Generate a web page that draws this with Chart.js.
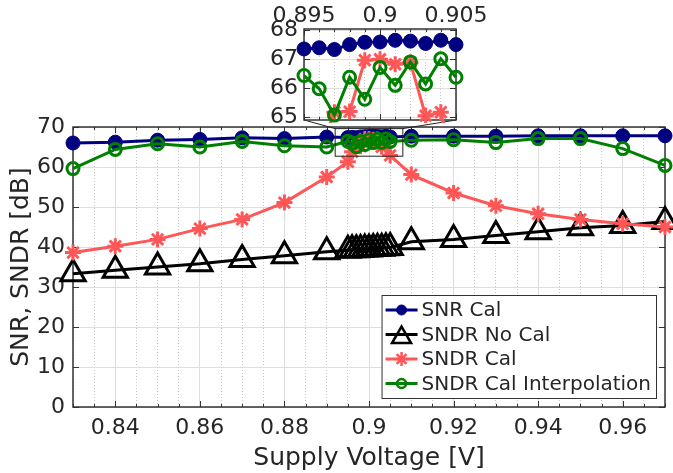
<!DOCTYPE html>
<html>
<head>
<meta charset="utf-8">
<title>SNR / SNDR vs supply voltage</title>
<script src="https://cdn.jsdelivr.net/npm/chart.js@4.4.1/dist/chart.umd.min.js"></script>
<style>
  html, body { margin: 0; padding: 0; background: #fff; }
  #wrap { position: relative; width: 673px; height: 473px; overflow: hidden; }
  #main { position: absolute; left: 0; top: 0; }
  #zoom { position: absolute; left: 250px; top: 0; }
</style>
</head>
<body>
<div id="wrap">
  <canvas id="main" width="673" height="473"></canvas>
  <canvas id="zoom" width="250" height="140"></canvas>
</div>
<script>
const $ = document.querySelector.bind(document)

// supply sweep, with a 1 mV step around the nominal 0.9 V
const voltage = [0.83, 0.84, 0.85, 0.86, 0.87, 0.88, 0.89,
    0.895, 0.896, 0.897, 0.898, 0.899, 0.9, 0.901, 0.902, 0.903, 0.904, 0.905,
    0.91, 0.92, 0.93, 0.94, 0.95, 0.96, 0.97]

const snrCal = [66.0, 66.2, 66.7, 66.9, 67.3, 67.1, 67.5,
    67.36, 67.40, 67.34, 67.51, 67.59, 67.60, 67.66, 67.63, 67.55, 67.66, 67.51,
    67.7, 67.7, 67.7, 67.8, 67.8, 67.8, 67.8]
const sndrNoCal = [33.3, 34.2, 35.0, 35.8, 36.9, 37.8, 38.8,
    39.2, 39.3, 39.3, 39.4, 39.5, 39.5, 39.6, 39.7, 39.7, 39.8, 39.9,
    41.3, 41.9, 42.9, 43.8, 44.8, 45.4, 46.4]
const sndrCal = [38.6, 40.2, 41.9, 44.6, 46.9, 51.1, 57.5,
    61.3, 63.8, 65.17, 65.19, 66.97, 67.0, 66.83, 66.89, 65.05, 65.17, 62.9,
    58.1, 53.5, 50.3, 48.3, 46.9, 45.8, 45.0]
const sndrCalInterp = [59.6, 64.4, 65.8, 65.0, 66.4, 65.3, 65.0,
    66.44, 65.98, 65.07, 66.38, 65.62, 66.72, 66.10, 66.91, 66.15, 67.02, 66.38,
    66.7, 66.8, 66.1, 67.1, 67.1, 64.6, 60.4]

const xMajorTicks = [0.84, 0.86, 0.88, 0.9, 0.92, 0.94, 0.96]
const yTicks = [0, 10, 20, 30, 40, 50, 60, 70]
const zoomXTicks = [0.895, 0.9, 0.905]
const zoomYTicks = [65, 66, 67, 68]

const mainRange = { xMin: 0.83, xMax: 0.97, yMin: 0, yMax: 70, minorStep: 0.005 }
const zoomRange = { xMin: 0.895, xMax: 0.905, yMin: 64.9, yMax: 68.05, minorStep: 0.001 }
// rectangle marking the zoomed region on the main axes
const zoomBox = { xMin: 0.892, xMax: 0.908, yMin: 62.7, yMax: 69.6 }

const series = [
    { label: "SNR Cal", values: snrCal, color: "#000080", style: "circle", radius: 7, filled: true },
    { label: "SNDR No Cal", values: sndrNoCal, color: "#000000", style: "triangle", radius: 14 },
    { label: "SNDR Cal", values: sndrCal, color: "#ff5757", style: "star", radius: 8 },
    { label: "SNDR Cal Interpolation", values: sndrCalInterp, color: "#008000", style: "circle", radius: 6 },
]

const FONT = "'DejaVu Sans', sans-serif"
const TEXT = "#262626"
const AXIS = "#333333"
const TICK_SIZE = 22
const TITLE_SIZE = 25

const near = (a, b) => Math.abs(a - b) < 1e-9

function gridTicks(range) {
    const out = []
    const n = Math.round((range.xMax - range.xMin) / range.minorStep)
    for (let i = 0; i <= n; i++)
        out.push(+(range.xMin + i * range.minorStep).toFixed(4))
    return out
}

function makeDataset(s, i, keep) {
    const data = []
    voltage.forEach((v, k) => {
        if (keep(v)) data.push({ x: v, y: s.values[k] })
    })
    return {
        label: s.label,
        data,
        borderColor: s.color,
        backgroundColor: "rgba(0,0,0,0)",
        borderWidth: 3,
        tension: 0,
        pointStyle: s.style,
        pointRadius: s.radius,
        pointHoverRadius: s.radius,
        pointBorderColor: s.color,
        pointBorderWidth: s.filled ? 1 : 3,
        pointBackgroundColor: s.filled ? s.color : "rgba(0,0,0,0)",
        order: series.length - i,
    }
}

function xScale(range, majors, opts) {
    const isMajor = v => majors.some(m => near(m, v))
    return {
        type: "linear",
        position: opts.position,
        min: range.xMin,
        max: range.xMax,
        afterBuildTicks: scale => { scale.ticks = gridTicks(range).map(v => ({ value: v })) },
        afterFit: scale => { scale.height = opts.height },
        ticks: {
            autoSkip: false,
            maxRotation: 0,
            padding: opts.padding,
            color: TEXT,
            font: { family: FONT, size: TICK_SIZE },
            callback: v => isMajor(v) ? String(+v.toFixed(3)) : "",
        },
        grid: {
            drawTicks: false,
            lineWidth: 1,
            color: ctx => ctx.tick && isMajor(ctx.tick.value) ? "#dedede" : "#c8c8c8",
        },
        border: {
            display: false,
            dash: ctx => ctx.tick && !isMajor(ctx.tick.value) ? [1, 2] : [],
        },
        title: opts.title,
    }
}

function yScale(range, ticks, opts) {
    return {
        min: range.yMin,
        max: range.yMax,
        afterBuildTicks: scale => { scale.ticks = ticks.map(v => ({ value: v })) },
        afterFit: scale => { scale.width = opts.width },
        ticks: {
            autoSkip: false,
            padding: opts.padding,
            color: TEXT,
            font: { family: FONT, size: TICK_SIZE },
        },
        grid: { drawTicks: false, lineWidth: 1, color: "#dedede" },
        border: { display: false },
        title: opts.title,
    }
}

// white page / plot background
const background = {
    id: "background",
    beforeDraw(chart, args, opts) {
        const { ctx, chartArea: a } = chart
        ctx.save()
        ctx.fillStyle = "#fff"
        if (opts.plotOnly) ctx.fillRect(a.left, a.top, a.width, a.height)
        else ctx.fillRect(0, 0, chart.width, chart.height)
        ctx.restore()
    }
}

// box round the axes with inward ticks on all four sides
const axesBox = {
    id: "axesBox",
    beforeDatasetsDraw(chart) {
        const { ctx, chartArea: a, scales: { x, y } } = chart
        ctx.save()
        ctx.strokeStyle = AXIS
        ctx.lineWidth = 1
        ctx.beginPath()
        x.ticks.forEach(t => {
            const px = Math.round(x.getPixelForValue(t.value)) + 0.5
            const len = t.label ? 6 : 3
            ctx.moveTo(px, a.bottom); ctx.lineTo(px, a.bottom - len)
            ctx.moveTo(px, a.top); ctx.lineTo(px, a.top + len)
        })
        y.ticks.forEach(t => {
            const py = Math.round(y.getPixelForValue(t.value)) + 0.5
            ctx.moveTo(a.left, py); ctx.lineTo(a.left + 6, py)
            ctx.moveTo(a.right, py); ctx.lineTo(a.right - 6, py)
        })
        ctx.stroke()
        ctx.lineWidth = 1.5
        ctx.strokeRect(a.left, a.top, a.width, a.height)
        ctx.restore()
    }
}

// legend with a short line sample and the marker on it
const lineLegend = {
    id: "lineLegend",
    afterDraw(chart) {
        const { ctx, chartArea: a } = chart
        const rowH = 24.5
        const sample = 32
        ctx.save()
        ctx.font = `20px ${FONT}`
        const textW = Math.max(...series.map(s => ctx.measureText(s.label).width))
        const w = 4 + sample + 4 + textW + 5
        const h = rowH * series.length + 5
        const right = a.right - 9
        const bottom = a.bottom - 9
        const left = right - w
        const top = bottom - h
        ctx.fillStyle = "#fff"
        ctx.fillRect(left, top, w, h)
        ctx.strokeStyle = AXIS
        ctx.lineWidth = 1
        ctx.strokeRect(left + 0.5, top + 0.5, w, h)

        const legendRadius = { circle: 5, triangle: 11, star: 7 }
        series.forEach((s, i) => {
            const cy = top + 15 + i * rowH
            const x0 = left + 4
            ctx.strokeStyle = s.color
            ctx.lineWidth = 3
            ctx.beginPath()
            ctx.moveTo(x0, cy); ctx.lineTo(x0 + sample, cy)
            ctx.stroke()
            ctx.fillStyle = s.filled ? s.color : "rgba(0,0,0,0)"
            ctx.lineWidth = s.filled ? 1 : 2.5
            const r = s.style === "circle" && !s.filled ? 4.5 : legendRadius[s.style]
            Chart.helpers.drawPoint(ctx, { pointStyle: s.style, radius: r, borderWidth: ctx.lineWidth, rotation: 0 },
                x0 + sample / 2, s.style === "triangle" ? cy + 3 : cy)
            ctx.fillStyle = TEXT
            ctx.textBaseline = "middle"
            ctx.textAlign = "left"
            ctx.fillText(s.label, x0 + sample + 4, cy + 1)
        })
        ctx.restore()
    }
}

const inRange = v => v >= zoomRange.xMin - 1e-9 && v <= zoomRange.xMax + 1e-9

const zoomChart = new Chart($("#zoom"), {
    type: "line",
    data: {
        datasets: series
            .filter(s => s.label !== "SNDR No Cal")
            .map(s => Object.assign(makeDataset(s, series.indexOf(s), inRange),
                { clip: { left: 12, right: 12, top: 12, bottom: 3 } })),
    },
    options: {
        responsive: false,
        animation: false,
        devicePixelRatio: 1,
        events: [],
        layout: { autoPadding: false, padding: { left: 0, top: 0, right: 44, bottom: 20 } },
        plugins: { legend: { display: false }, tooltip: { enabled: false }, background: { plotOnly: true } },
        scales: {
            x: xScale(zoomRange, zoomXTicks, { position: "top", height: 29, padding: 0, title: { display: false } }),
            y: yScale(zoomRange, zoomYTicks, { width: 54, padding: 6, title: { display: false } }),
        }
    },
    plugins: [background, axesBox]
})

// rectangle round the zoomed points and the two lines up to the inset
const zoomMarker = {
    id: "zoomMarker",
    afterDraw(chart) {
        const { ctx, scales: { x, y } } = chart
        const left = x.getPixelForValue(zoomBox.xMin)
        const right = x.getPixelForValue(zoomBox.xMax)
        const top = y.getPixelForValue(zoomBox.yMax)
        const bottom = y.getPixelForValue(zoomBox.yMin)
        const insetLeft = $("#zoom").offsetLeft
        const insetTop = $("#zoom").offsetTop
        const za = zoomChart.chartArea
        ctx.save()
        ctx.strokeStyle = "#222"
        ctx.lineWidth = 1
        ctx.strokeRect(left, top, right - left, bottom - top)
        ctx.beginPath()
        ctx.moveTo(insetLeft + za.left, insetTop + za.bottom); ctx.lineTo(left, top)
        ctx.moveTo(insetLeft + za.right, insetTop + za.bottom); ctx.lineTo(right, top)
        ctx.stroke()
        ctx.restore()
    }
}

new Chart($("#main"), {
    type: "line",
    data: {
        datasets: series.map((s, i) => Object.assign(makeDataset(s, i, () => true), { clip: false })),
    },
    options: {
        responsive: false,
        animation: false,
        devicePixelRatio: 1,
        events: [],
        layout: { autoPadding: false, padding: { left: 0, top: 127, right: 8, bottom: 0 } },
        plugins: { legend: { display: false }, tooltip: { enabled: false } },
        scales: {
            x: xScale(mainRange, xMajorTicks, {
                position: "bottom", height: 66, padding: 8,
                title: { display: true, text: "Supply Voltage [V]", color: TEXT,
                    font: { family: FONT, size: TITLE_SIZE }, padding: { top: 0, bottom: 0 } },
            }),
            y: yScale(mainRange, yTicks, {
                width: 73, padding: 8,
                title: { display: true, text: "SNR, SNDR [dB]", color: TEXT,
                    font: { family: FONT, size: TITLE_SIZE }, padding: { top: 6, bottom: 0 } },
            }),
        }
    },
    plugins: [background, axesBox, zoomMarker, lineLegend]
})
</script>
</body>
</html>
